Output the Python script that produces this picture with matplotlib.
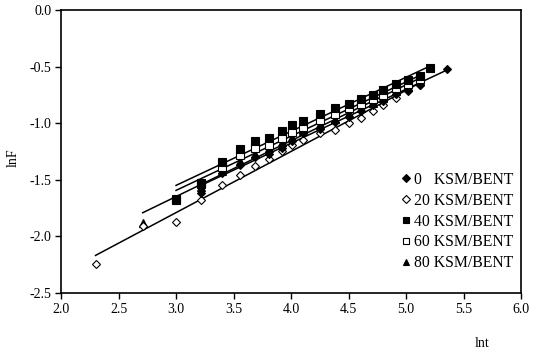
import numpy as np
import matplotlib
matplotlib.use('Agg')
import matplotlib.pyplot as plt

plt.rcParams['font.family'] = ['Liberation Serif', 'DejaVu Serif']
plt.rcParams['font.size'] = 10

# lnt values and lnF values, one pair of lists per series
lnt_0 = [3.22, 3.40, 3.56, 3.69, 3.81, 3.92, 4.01, 4.10, 4.25, 4.38, 4.50,
         4.61, 4.71, 4.80, 4.91, 5.02, 5.12, 5.36]
lnf_0 = [-1.62, -1.44, -1.37, -1.30, -1.27, -1.22, -1.16, -1.09, -1.05, -0.99, -0.945,
         -0.89, -0.84, -0.80, -0.74, -0.71, -0.66, -0.52]

lnt_20 = [2.30, 2.71, 3.00, 3.22, 3.40, 3.56, 3.69, 3.81, 3.92, 4.01, 4.10,
          4.25, 4.38, 4.50, 4.61, 4.71, 4.80, 4.91, 5.02, 5.12]
lnf_20 = [-2.24, -1.91, -1.87, -1.68, -1.55, -1.46, -1.375, -1.32, -1.245, -1.19, -1.15,
          -1.09, -1.06, -1.00, -0.95, -0.89, -0.84, -0.78, -0.72, -0.66]

lnt_40 = [3.00, 3.22, 3.40, 3.56, 3.69, 3.81, 3.92, 4.01, 4.10, 4.25, 4.38,
          4.50, 4.61, 4.71, 4.80, 4.91, 5.02, 5.12, 5.21]
lnf_40 = [-1.67, -1.53, -1.34, -1.23, -1.157, -1.128, -1.07, -1.016, -0.98, -0.92, -0.87,
          -0.83, -0.79, -0.75, -0.71, -0.65, -0.62, -0.58, -0.51]

lnt_60 = [3.00, 3.22, 3.40, 3.56, 3.69, 3.81, 3.92, 4.01, 4.10, 4.25, 4.38,
          4.50, 4.61, 4.71, 4.80, 4.91, 5.02, 5.12]
lnf_60 = [-1.68, -1.54, -1.39, -1.28, -1.22, -1.19, -1.13, -1.08, -1.03, -0.97, -0.92,
          -0.87, -0.83, -0.79, -0.75, -0.69, -0.65, -0.61]

lnt_80 = [2.71, 3.00, 3.22, 3.40, 3.56, 3.69, 3.81, 3.92, 4.01, 4.10, 4.25,
          4.38, 4.50, 4.61, 4.71, 4.80, 4.91, 5.02, 5.12]
lnf_80 = [-1.88, -1.67, -1.56, -1.42, -1.33, -1.27, -1.22, -1.17, -1.12, -1.07, -1.01,
          -0.96, -0.91, -0.87, -0.82, -0.78, -0.72, -0.68, -0.63]

labels = ['0   KSM/BENT', '20 KSM/BENT', '40 KSM/BENT', '60 KSM/BENT', '80 KSM/BENT']

fig = plt.figure(figsize=(5.4, 3.54), dpi=100)
ax = fig.add_axes([0.113, 0.172, 0.852, 0.800])

series = [
    (lnt_0, lnf_0, 'D', 'black', 4.5, 4),
    (lnt_20, lnf_20, 'D', 'white', 4.5, 3),
    (lnt_40, lnf_40, 's', 'black', 5.5, 6),
    (lnt_60, lnf_60, 's', 'white', 5.5, 5),
    (lnt_80, lnf_80, '^', 'black', 5.5, 2),
]

# linear fit lines over each series' range
for x, y, m, fc, ms, z in series:
    x = np.array(x)
    k, b = np.polyfit(x, y, 1)
    xs = np.array([x.min(), x.max()])
    ax.plot(xs, k * xs + b, color='black', lw=1.1, zorder=1)

for (x, y, m, fc, ms, z), lab in zip(series, labels):
    ax.plot(x, y, linestyle='none', marker=m, markersize=ms, markerfacecolor=fc,
            markeredgecolor='black', markeredgewidth=0.8, label=lab, zorder=z)

ax.set_xlim(2.0, 6.0)
ax.set_ylim(-2.5, 0.0)
ax.set_xticks(np.arange(2.0, 6.01, 0.5))
ax.set_yticks(np.arange(-2.5, 0.01, 0.5))
ax.xaxis.set_major_formatter(matplotlib.ticker.FormatStrFormatter('%.1f'))
ax.yaxis.set_major_formatter(matplotlib.ticker.FormatStrFormatter('%.1f'))
ax.tick_params(direction='out', length=4, width=1, pad=3)
for s in ax.spines.values():
    s.set_linewidth(1.2)

ax.legend(loc='upper left', bbox_to_anchor=(0.738, 0.428), frameon=False,
          fontsize=11.3, markerscale=0.85, handlelength=0.7, handletextpad=0.15,
          labelspacing=0.31, borderaxespad=0, borderpad=0)

fig.text(0.024, 0.555, 'lnF', rotation=90, ha='center', va='center')
fig.text(0.893, 0.03, 'lnt', ha='center', va='center')

fig.savefig('out.png', dpi=100)
